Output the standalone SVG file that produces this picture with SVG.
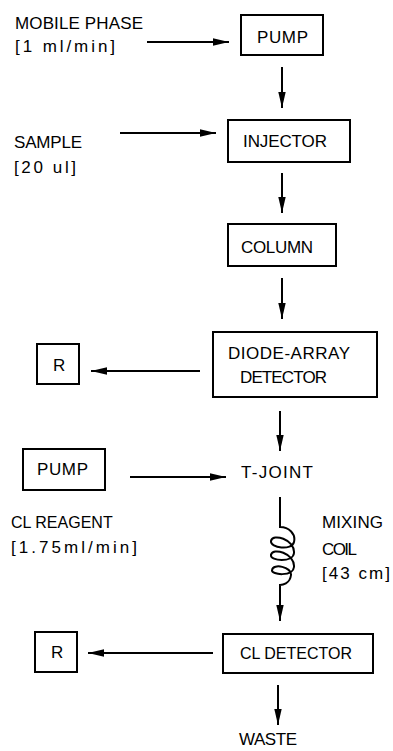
<svg xmlns="http://www.w3.org/2000/svg" width="393" height="751" viewBox="0 0 393 751">
<defs>
<marker id="ah" markerUnits="userSpaceOnUse" markerWidth="17" markerHeight="10" refX="16" refY="5" orient="auto">
<path d="M0,1.3 L16,5 L0,8.7 Z" fill="#000"/>
</marker>
<style>
.box{fill:#fff;stroke:#000;stroke-width:2}
.t{font-family:"Liberation Sans",Arial,sans-serif;font-size:17px;fill:#000}
.s{font-size:16px}
.c{stroke:#000;stroke-width:2;fill:none}
.a{marker-end:url(#ah)}
</style>
</defs>
<rect width="393" height="751" fill="#fff"/>
<g id="connectors">
<line class="c a" x1="147" y1="42" x2="229" y2="42"/>
<line class="c a" x1="282" y1="67" x2="282" y2="108"/>
<line class="c a" x1="120" y1="133" x2="216" y2="133"/>
<line class="c a" x1="282" y1="173" x2="282" y2="213"/>
<line class="c a" x1="282" y1="278" x2="282" y2="319"/>
<line class="c a" x1="200" y1="371" x2="91" y2="371"/>
<line class="c a" x1="280" y1="411" x2="280" y2="451"/>
<line class="c a" x1="130" y1="477" x2="226" y2="477"/>
<path class="c a" d="M280,497 V527 C289,527 296,534 294,542 C292,551 270,548 271,541 C272,533 295,539 294,553 C293,563 270,561 271,555 C272,547 295,553 294,567 C293,577 271,575 272,570 C273,563 292,567 291,575 C290,584 282,585 280,585 V621"/>
<line class="c a" x1="213" y1="653" x2="88" y2="653"/>
<line class="c a" x1="278" y1="685" x2="278" y2="725"/>
</g>
<g id="mobile-phase"><text class="t" x="15" y="29" textLength="128" lengthAdjust="spacing">MOBILE PHASE</text><text class="t" x="15" y="52" textLength="100" lengthAdjust="spacing">[1 ml/min]</text></g>
<g id="pump1"><rect class="box" x="241" y="15" width="82" height="40"/><text class="t" x="257" y="43" textLength="51" lengthAdjust="spacing">PUMP</text></g>
<g id="sample"><text class="t" x="14" y="148" textLength="68" lengthAdjust="spacing">SAMPLE</text><text class="t" x="14" y="173" textLength="62" lengthAdjust="spacing">[20 ul]</text></g>
<g id="injector"><rect class="box" x="228" y="120" width="122" height="42"/><text class="t" x="243" y="147" textLength="84" lengthAdjust="spacing">INJECTOR</text></g>
<g id="column"><rect class="box" x="228" y="224" width="108" height="42"/><text class="t" x="241" y="253" textLength="72" lengthAdjust="spacing">COLUMN</text></g>
<g id="dad"><rect class="box" x="213" y="332" width="164" height="65"/><text class="t" x="228" y="359" textLength="122" lengthAdjust="spacing">DIODE-ARRAY</text><text class="t" x="240" y="383" textLength="87" lengthAdjust="spacing">DETECTOR</text></g>
<g id="r1"><rect class="box" x="37" y="344" width="42" height="40"/><text class="t" x="53" y="371">R</text></g>
<g id="pump2"><rect class="box" x="23" y="449" width="82" height="41"/><text class="t" x="37" y="475" textLength="51" lengthAdjust="spacing">PUMP</text></g>
<g id="tjoint"><text class="t" x="241" y="478" textLength="72" lengthAdjust="spacing">T-JOINT</text></g>
<g id="cl-reagent"><text class="t s" x="11" y="528">CL REAGENT</text><text class="t" x="11" y="553" textLength="126" lengthAdjust="spacing">[1.75ml/min]</text></g>
<g id="mixing-coil"><text class="t" x="322" y="528" textLength="61" lengthAdjust="spacing">MIXING</text><text class="t" x="322" y="555" textLength="35" lengthAdjust="spacing">COIL</text><text class="t" x="322" y="579" textLength="68" lengthAdjust="spacing">[43 cm]</text></g>
<g id="cl-detector"><rect class="box" x="223" y="634" width="150" height="39"/><text class="t s" x="240" y="659">CL DETECTOR</text></g>
<g id="r2"><rect class="box" x="35" y="632" width="42" height="40"/><text class="t" x="51" y="658">R</text></g>
<g id="waste"><text class="t" x="239" y="745" textLength="58" lengthAdjust="spacing">WASTE</text></g>
</svg>
